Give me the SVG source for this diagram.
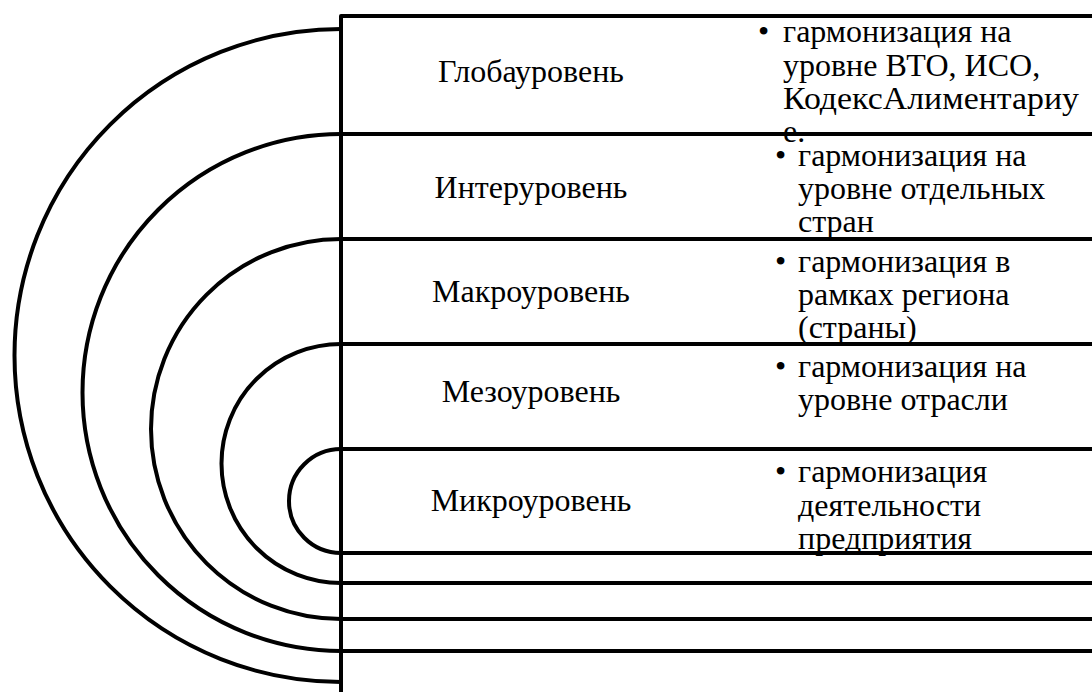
<svg xmlns="http://www.w3.org/2000/svg" width="1092" height="693" viewBox="0 0 1092 693">
  <style>
    .ln { fill: none; stroke: #000; stroke-width: 4; stroke-linejoin: round; }
    .t { font-family: "Liberation Serif", "Times New Roman", serif; font-size: 32px; fill: #000; }
    .lbl { text-anchor: middle; }
  </style>
  <rect x="0" y="0" width="1092" height="693" fill="#fff"/>
  <g id="frame">
    <path class="ln" d="M 341 692 V 16 H 1092"/>
  </g>
  <g id="level-global">
    <path class="ln" d="M 341 29 A 326.5 326.5 0 0 0 341 682"/>
    <text class="t lbl" x="531" y="82">Глобауровень</text>
    <text class="t" x="758" y="42">•</text>
    <text class="t" x="783" y="42">гармонизация на</text>
    <text class="t" x="783" y="76">уровне ВТО, ИСО,</text>
    <text class="t" x="783" y="109" textLength="296" lengthAdjust="spacingAndGlyphs">КодексАлиментариу</text>
    <text class="t" x="783" y="142">е.</text>
  </g>
  <g id="level-inter">
    <path class="ln" d="M 341 134 A 258.5 258.5 0 0 0 341 651"/>
    <path class="ln" d="M 341 134 H 1092 M 341 651 H 1092"/>
    <text class="t lbl" x="531" y="198">Интеруровень</text>
    <text class="t" x="775" y="166">•</text>
    <text class="t" x="798" y="166">гармонизация на</text>
    <text class="t" x="798" y="199">уровне отдельных</text>
    <text class="t" x="798" y="232">стран</text>
  </g>
  <g id="level-macro">
    <path class="ln" d="M 341 239 A 190 190 0 0 0 341 619"/>
    <path class="ln" d="M 341 239 H 1092 M 341 619 H 1092"/>
    <text class="t lbl" x="531" y="302">Макроуровень</text>
    <text class="t" x="775" y="272">•</text>
    <text class="t" x="798" y="272">гармонизация в</text>
    <text class="t" x="798" y="305">рамках региона</text>
    <text class="t" x="798" y="338">(страны)</text>
  </g>
  <g id="level-meso">
    <path class="ln" d="M 341 344 A 119.5 119.5 0 0 0 341 583"/>
    <path class="ln" d="M 341 344 H 1092 M 341 583 H 1092"/>
    <text class="t lbl" x="531" y="402">Мезоуровень</text>
    <text class="t" x="775" y="377">•</text>
    <text class="t" x="798" y="377">гармонизация на</text>
    <text class="t" x="798" y="410">уровне отрасли</text>
  </g>
  <g id="level-micro">
    <path class="ln" d="M 341 449 A 52 52 0 0 0 341 553"/>
    <path class="ln" d="M 341 449 H 1092 M 341 553 H 1092"/>
    <text class="t lbl" x="531" y="511">Микроуровень</text>
    <text class="t" x="775" y="482">•</text>
    <text class="t" x="798" y="482">гармонизация</text>
    <text class="t" x="798" y="516">деятельности</text>
    <text class="t" x="798" y="549">предприятия</text>
  </g>
  <g id="connectors"></g>
</svg>
